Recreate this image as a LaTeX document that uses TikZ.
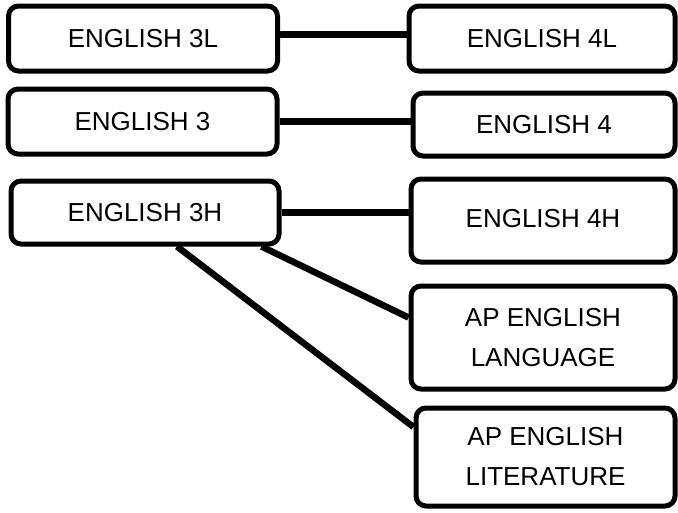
\documentclass[tikz,border=0pt]{standalone}
\usepackage{fontspec}
\setmainfont{Liberation Sans}
\usetikzlibrary{positioning}
\tikzset{course/.style={draw, line width=5pt, rounded corners=10pt, align=center,
                        font=\fontsize{26}{40}\selectfont, inner sep=0pt},
         link/.style={line width=6.5pt},
        }

\begin{document}
\begin{tikzpicture}[x=1pt, y=-1pt]
        \useasboundingbox (0,0) rectangle (678,512);

        \node[course, minimum width=269pt, minimum height=65pt](e3l)at(143,38.5){ENGLISH 3L};
        \node[course, minimum width=269pt, minimum height=65pt](e3)at(142.5,121.5){ENGLISH 3};
        \node[course, minimum width=268pt, minimum height=63pt](e3h)at(145,212.5){ENGLISH 3H};

        \node[course, minimum width=266pt, minimum height=65pt](e4l)at(542,38.5){ENGLISH 4L};
        \node[course, minimum width=262pt, minimum height=63pt](e4)at(544,124.5){ENGLISH 4};
        \node[course, minimum width=264pt, minimum height=83pt](e4h)at(543,220.5){\raisebox{5pt}{ENGLISH 4H}};
        \node[course, minimum width=264pt, minimum height=103pt](aplang)at(543,337.5){AP ENGLISH\\LANGUAGE};
        \node[course, minimum width=259pt, minimum height=98pt](aplit)at(545.5,457){AP ENGLISH\\LITERATURE};

        \draw[link]([yshift=4pt]e3l.east)--([yshift=4pt]e3l.east -| e4l.west);
        \draw[link](e3.east)--(e3.east -| e4.west);
        \draw[link](e3h.east)--(e3h.east -| e4h.west);

        \draw[link]([xshift=-20pt]e3h.south east)--([yshift=20pt]aplang.west);
        \draw[link]([xshift=32pt]e3h.south)--([yshift=30pt]aplit.west);
    \end{tikzpicture}
\end{document}
